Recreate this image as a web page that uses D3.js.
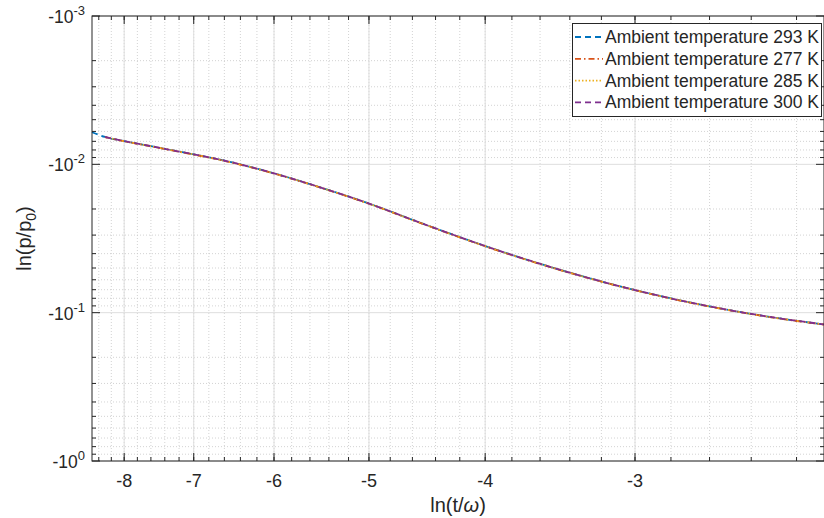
<!DOCTYPE html>
<html>
<head>
<meta charset="utf-8">
<script src="https://cdn.jsdelivr.net/npm/d3@7"></script>
<style>
  body { margin: 0; background: #fff; }
  text { font-family: "Liberation Sans", Arial, sans-serif; fill: #262626; }
</style>
</head>
<body>
<svg id="chart" width="824" height="518"></svg>
<script>
// ln(t/omega) sample points
const lnT = [-8.51, -8.3, -8.0, -7.6, -7.2, -7.0, -6.5, -6.0, -5.5, -5.0, -4.5, -4.0, -3.5, -3.0, -2.6, -2.3, -2.087];

// ln(p/p0) per ambient temperature (first point only exists for 293 K)
const p293 = [-0.00608, -0.00654, -0.00697, -0.00754, -0.00820, -0.00856, -0.00971, -0.01150, -0.01423, -0.01838, -0.02527, -0.03556, -0.05018, -0.07040, -0.09069, -0.10775, -0.11992];
const p277 = [null, -0.00656, -0.00699, -0.00756, -0.00822, -0.00859, -0.00974, -0.01154, -0.01427, -0.01844, -0.02535, -0.03566, -0.05032, -0.07058, -0.09090, -0.10800, -0.12020];
const p285 = [null, -0.00656, -0.00699, -0.00756, -0.00822, -0.00858, -0.00974, -0.01153, -0.01426, -0.01843, -0.02533, -0.03564, -0.05029, -0.07054, -0.09085, -0.10794, -0.12013];
const p300 = [null, -0.00654, -0.00697, -0.00754, -0.00820, -0.00856, -0.00971, -0.01150, -0.01423, -0.01838, -0.02527, -0.03556, -0.05018, -0.07040, -0.09069, -0.10775, -0.11992];

const xMajor = [-8, -7, -6, -5, -4, -3];
const xMinor = d3.range(-84, -21, 2).map(d => d / 10);
const yMajorExp = [-3, -2, -1, 0];

const series = [
  {name: "Ambient temperature 293 K", vals: p293, color: "#0072BD", dash: "6,4"},
  {name: "Ambient temperature 277 K", vals: p277, color: "#D95319", dash: "6,3,1.5,3"},
  {name: "Ambient temperature 285 K", vals: p285, color: "#EDB120", dash: "1.5,2"},
  {name: "Ambient temperature 300 K", vals: p300, color: "#7E2F8E", dash: "6,4"}
];

const svg = d3.select("#chart");
const L = 92, T = 16, R = 824, B = 461;

// both axes are log scales on the magnitude of negative values
const xs = d3.scaleLog().domain([8.51, 2.087]).range([L, R]);
const ys = d3.scaleLog().domain([1e-3, 1]).range([T, B]);
const x = v => xs(-v);
const y = v => ys(-v);

const yMinor = [];
for (let k = -3; k < 0; k++) for (let m = 2; m <= 9; m++) yMinor.push(-m * Math.pow(10, k));

const g = svg.append("g");

// minor grid
g.selectAll(".xmg").data(xMinor).enter().append("line")
  .attr("x1", d => x(d)).attr("x2", d => x(d)).attr("y1", T).attr("y2", B)
  .attr("stroke", "#c8c8c8").attr("stroke-width", 0.8).attr("stroke-dasharray", "1,2");
g.selectAll(".ymg").data(yMinor).enter().append("line")
  .attr("y1", d => y(d)).attr("y2", d => y(d)).attr("x1", L).attr("x2", R)
  .attr("stroke", "#c8c8c8").attr("stroke-width", 0.8).attr("stroke-dasharray", "1,2");

// major grid
g.selectAll(".xMg").data(xMajor).enter().append("line")
  .attr("x1", d => x(d)).attr("x2", d => x(d)).attr("y1", T).attr("y2", B)
  .attr("stroke", "#dedede").attr("stroke-width", 1);
g.selectAll(".yMg").data(yMajorExp).enter().append("line")
  .attr("y1", d => y(-Math.pow(10, d))).attr("y2", d => y(-Math.pow(10, d))).attr("x1", L).attr("x2", R)
  .attr("stroke", "#dedede").attr("stroke-width", 1);

// curves
series.forEach(s => {
  const pts = s.vals.map((v, i) => ({v, i})).filter(p => p.v != null);
  svg.append("path")
    .attr("d", d3.line().x(p => x(lnT[p.i])).y(p => y(p.v)).curve(d3.curveMonotoneX)(pts))
    .attr("fill", "none")
    .attr("stroke", s.color)
    .attr("stroke-width", 1.8)
    .attr("stroke-dasharray", s.dash);
});

// box and ticks
const ax = svg.append("g").attr("stroke", "#262626");
ax.append("rect").attr("x", L).attr("y", T).attr("width", R - L).attr("height", B - T)
  .attr("fill", "none").attr("stroke-width", 1);

xMajor.forEach(v => {
  ax.append("line").attr("x1", x(v)).attr("x2", x(v)).attr("y1", B).attr("y2", B - 8);
  ax.append("line").attr("x1", x(v)).attr("x2", x(v)).attr("y1", T).attr("y2", T + 8);
});
xMinor.forEach(v => {
  ax.append("line").attr("x1", x(v)).attr("x2", x(v)).attr("y1", B).attr("y2", B - 4);
  ax.append("line").attr("x1", x(v)).attr("x2", x(v)).attr("y1", T).attr("y2", T + 4);
});
yMajorExp.forEach(e => {
  const yy = y(-Math.pow(10, e));
  ax.append("line").attr("x1", L).attr("x2", L + 8).attr("y1", yy).attr("y2", yy);
  ax.append("line").attr("x1", R).attr("x2", R - 8).attr("y1", yy).attr("y2", yy);
});
yMinor.forEach(v => {
  ax.append("line").attr("x1", L).attr("x2", L + 4).attr("y1", y(v)).attr("y2", y(v));
  ax.append("line").attr("x1", R).attr("x2", R - 4).attr("y1", y(v)).attr("y2", y(v));
});

// tick labels
svg.selectAll(".xt").data(xMajor).enter().append("text")
  .attr("x", d => x(d)).attr("y", 487).attr("text-anchor", "middle")
  .attr("font-size", 18).text(d => d);

yMajorExp.forEach(e => {
  const yy = y(-Math.pow(10, e));
  const t = svg.append("text").attr("x", L - 7).attr("y", yy + 7).attr("text-anchor", "end").attr("font-size", 17.5);
  t.append("tspan").text("-10");
  t.append("tspan").attr("dy", -8).attr("font-size", 13).text(e);
});

// axis labels
const xl = svg.append("text").attr("x", (L + R) / 2).attr("y", 512).attr("text-anchor", "middle").attr("font-size", 20);
xl.append("tspan").text("ln(t/");
xl.append("tspan").attr("font-style", "italic").text("\u03c9");
xl.append("tspan").text(")");

const yl = svg.append("text").attr("transform", `translate(31,${(T + B) / 2}) rotate(-90)`)
  .attr("text-anchor", "middle").attr("font-size", 20);
yl.append("tspan").text("ln(p/p");
yl.append("tspan").attr("dy", 5).attr("font-size", 14).text("0");
yl.append("tspan").attr("dy", -5).text(")");

// legend
const lg = svg.append("g");
lg.append("rect").attr("x", 572.5).attr("y", 23.5).attr("width", 249).attr("height", 93)
  .attr("fill", "#fff").attr("stroke", "#262626").attr("stroke-width", 1);
series.forEach((s, i) => {
  const yy = 37 + i * 21.8;
  lg.append("line").attr("x1", 575).attr("x2", 603).attr("y1", yy).attr("y2", yy)
    .attr("stroke", s.color).attr("stroke-width", 1.8).attr("stroke-dasharray", s.dash);
  lg.append("text").attr("x", 605).attr("y", yy + 6).attr("font-size", 17.5).text(s.name);
});
</script>
</body>
</html>
